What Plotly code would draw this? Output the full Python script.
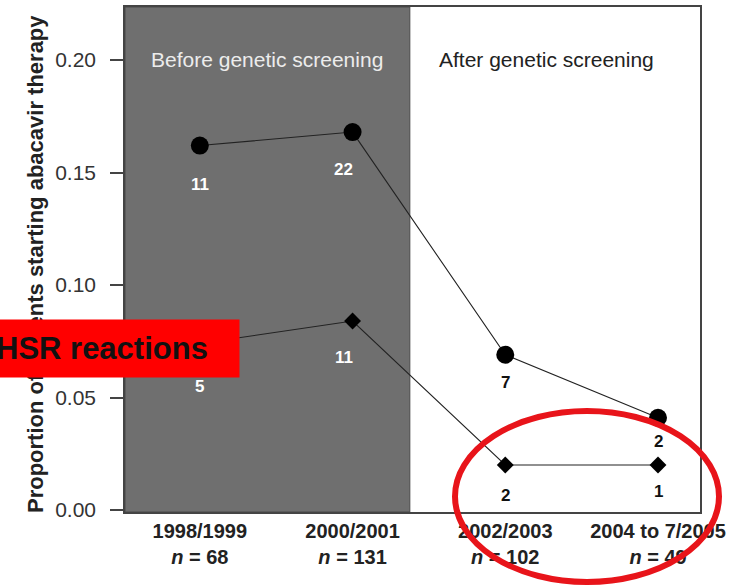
import plotly.graph_objects as go

# ---- data ----
periods = ["1998/1999", "2000/2001", "2002/2003", "2004 to 7/2005"]
n_values = [68, 131, 102, 49]
prop_started = [0.162, 0.168, 0.069, 0.041]      # circles
prop_hsr = [0.074, 0.084, 0.020, 0.020]          # diamonds
count_started = [11, 22, 7, 2]
count_hsr = [5, 11, 2, 1]
y_ticks = [0.00, 0.05, 0.10, 0.15, 0.20]

FONT = "Liberation Sans"
W, H = 736, 588
L, R, T, B = 125, 36, 7, 76
PW, PH = W - L - R, H - T - B


def px(xp):
    return (xp - L) / PW


def py(yp):
    return (H - B - yp) / PH


tick_text = [f"<b>{p}<br><i>n</i> = {n}</b>" for p, n in zip(periods, n_values)]

fig = go.Figure()
fig.add_trace(go.Scatter(
    x=periods, y=prop_started, mode="lines+markers",
    line=dict(color="#222222", width=1.1),
    marker=dict(symbol="circle", size=18, color="black"),
    showlegend=False, hoverinfo="skip"))
fig.add_trace(go.Scatter(
    x=periods, y=prop_hsr, mode="lines+markers",
    line=dict(color="#222222", width=1.1),
    marker=dict(symbol="diamond", size=13, color="black"),
    showlegend=False, hoverinfo="skip"))

# shaded "before" region
fig.add_shape(type="rect", xref="x", yref="y domain", x0=-0.49, x1=1.375, y0=0, y1=1,
              fillcolor="#6f6f6f", line=dict(color="#4a4a4a", width=1), layer="below")

# red ellipse
fig.add_shape(type="circle", xref="paper", yref="paper",
              x0=px(455), x1=px(719), y0=py(582), y1=py(411),
              line=dict(color="#e8141a", width=6), layer="above")

annotations = []
# y-axis title as annotation (so the red box can cover it)
annotations.append(dict(
    text="<b>Proportion of patients starting abacavir therapy</b>",
    xref="paper", yref="paper", x=px(35), y=py(264), textangle=-90,
    xanchor="center", yanchor="middle",
    showarrow=False, font=dict(family=FONT, size=22, color="#222222")))

# region labels
annotations.append(dict(text="Before genetic screening", xref="paper", yref="paper",
                        x=px(267), y=py(60), xanchor="center", yanchor="middle",
                        showarrow=False,
                        font=dict(family=FONT, size=21, color="#ececec")))
annotations.append(dict(text="After genetic screening", xref="paper", yref="paper",
                        x=px(546), y=py(60), xanchor="center", yanchor="middle",
                        showarrow=False,
                        font=dict(family=FONT, size=21, color="#222222")))

# point labels
label_colors = ["white", "white", "#111111", "#111111"]
label_xshift = [0, -9, 0, 0]
shift_started = [-39, -37, -28, -24]
shift_hsr = [-43, -36, -31, -27]
for i, p in enumerate(periods):
    annotations.append(dict(text=f"<b>{count_started[i]}</b>", x=p, y=prop_started[i],
                            xref="x", yref="y", showarrow=False, yshift=shift_started[i],
                            xshift=label_xshift[i],
                            font=dict(family=FONT, size=17, color=label_colors[i])))
    annotations.append(dict(text=f"<b>{count_hsr[i]}</b>", x=p, y=prop_hsr[i],
                            xref="x", yref="y", showarrow=False, yshift=shift_hsr[i],
                            xshift=label_xshift[i],
                            font=dict(family=FONT, size=17, color=label_colors[i])))

# red "HSR reactions" box
annotations.append(dict(text="<b>HSR reactions</b>", xref="paper", yref="paper",
                        x=px(-5), y=py(348.5), xanchor="left", yanchor="middle",
                        width=243, height=57, align="left", bgcolor="#ff0000",
                        borderpad=0, showarrow=False,
                        font=dict(family=FONT, size=31, color="#111111")))

fig.update_layout(
    width=W, height=H,
    margin=dict(l=L, r=R, t=T, b=B, autoexpand=False),
    paper_bgcolor="white", plot_bgcolor="white",
    font=dict(family=FONT, color="#222222"),
    annotations=annotations,
    xaxis=dict(type="category", range=[-0.49, 3.275], tickmode="array",
               tickvals=periods, ticktext=tick_text, ticks="", automargin=False,
               showgrid=False, zeroline=False, showline=True, mirror=True,
               linecolor="#444444", linewidth=1.5,
               tickfont=dict(family=FONT, size=20, color="#222222")),
    yaxis=dict(range=[-0.0009, 0.2236], tickmode="array", tickvals=y_ticks,
               ticktext=[f"{v:.2f}" for v in y_ticks], ticks="outside", ticklen=13,
               tickcolor="#444444", tickwidth=1.5, automargin=False,
               ticklabelstandoff=10,
               showgrid=False, zeroline=False, showline=True, mirror=True,
               linecolor="#444444", linewidth=1.5,
               tickfont=dict(family=FONT, size=21, color="#333333")),
)

fig.write_html("out.html", config={"displayModeBar": False},
               post_script="document.body.style.margin='0';")
